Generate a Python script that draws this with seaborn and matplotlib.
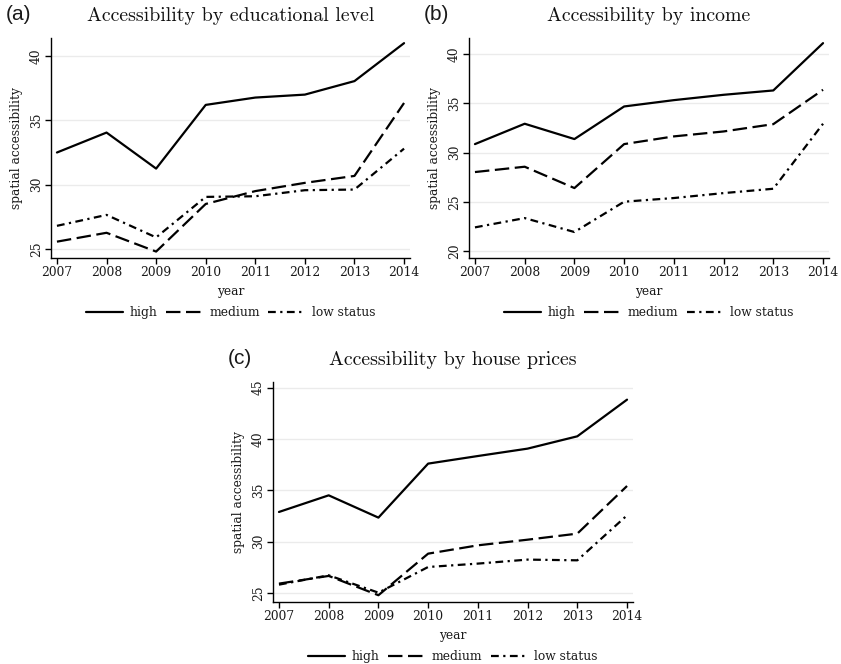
import numpy as np
import pandas as pd
import matplotlib
matplotlib.use("Agg")
import matplotlib.pyplot as plt
from matplotlib.lines import Line2D
import seaborn as sns

years = [2007, 2008, 2009, 2010, 2011, 2012, 2013, 2014]
groups = ["high", "medium", "low status"]

edu_high = [32.5, 34.05, 31.25, 36.2, 36.77, 37.0, 38.05, 41.0]
edu_medium = [25.57, 26.26, 24.8, 28.5, 29.5, 30.14, 30.68, 36.35]
edu_low = [26.8, 27.65, 25.9, 29.05, 29.1, 29.57, 29.62, 32.8]

inc_high = [30.86, 32.92, 31.37, 34.67, 35.31, 35.85, 36.29, 41.08]
inc_medium = [28.03, 28.57, 26.41, 30.86, 31.64, 32.14, 32.88, 36.36]
inc_low = [22.43, 23.37, 21.96, 25.03, 25.4, 25.9, 26.34, 32.92]

hp_high = [32.89, 34.51, 32.34, 37.6, 38.34, 39.06, 40.26, 43.83]
hp_medium = [25.91, 26.66, 24.78, 28.83, 29.64, 30.19, 30.78, 35.42]
hp_low = [25.81, 26.72, 25.03, 27.53, 27.86, 28.25, 28.18, 32.56]

panels = [
    ("(a)", "Accessibility by educational level", [edu_high, edu_medium, edu_low],
     [25, 30, 35, 40], (24.3, 41.4)),
    ("(b)", "Accessibility by income", [inc_high, inc_medium, inc_low],
     [20, 25, 30, 35, 40], (19.33, 41.6)),
    ("(c)", "Accessibility by house prices", [hp_high, hp_medium, hp_low],
     [25, 30, 35, 40, 45], (24.12, 45.55)),
]

sns.set_theme(style="white")
plt.rcParams["font.family"] = ["DejaVu Serif"]

W, H = 841, 664
fig = plt.figure(figsize=(W / 100, H / 100), dpi=100)

# axes boxes in pixels: left, top, right, bottom
boxes = [(51, 38, 410, 258), (469, 38, 829, 258), (273, 382, 633, 602)]

dashes = {"high": "", "medium": (6.5, 2.5), "low status": (3.5, 2, 1, 2)}
FS = 8.8
TXT = "#1a1a1a"

for (tag, title, series, yticks, ylim), (l, t, r, b) in zip(panels, boxes):
    ax = fig.add_axes([l / W, 1 - b / H, (r - l) / W, (b - t) / H])
    df = pd.DataFrame({
        "year": years * 3,
        "value": series[0] + series[1] + series[2],
        "group": [g for g in groups for _ in years],
    })
    sns.lineplot(data=df, x="year", y="value", style="group", style_order=groups,
                 dashes=dashes, color="black", linewidth=1.6, ax=ax, legend=False)
    ax.set_xlim(2006.88, 2014.12)
    ax.set_ylim(*ylim)
    ax.set_xticks(years)
    ax.set_yticks(yticks)
    ax.set_xticklabels([str(y) for y in years], fontsize=FS)
    ax.set_yticklabels([str(v) for v in yticks], fontsize=FS, rotation=90, va="center")
    ax.yaxis.grid(True, color="#ebebeb", linewidth=1.0)
    ax.xaxis.grid(False)
    for s in ["top", "right"]:
        ax.spines[s].set_visible(False)
    for s in ["left", "bottom"]:
        ax.spines[s].set_color("black")
        ax.spines[s].set_linewidth(1.0)
    ax.tick_params(axis="both", which="major", direction="out", length=4, width=1,
                   color="black", labelcolor=TXT, pad=2, bottom=True, left=True)
    ax.set_xlabel("year", fontsize=FS, labelpad=4, color=TXT)
    ax.set_ylabel("spatial accessibility", fontsize=FS, labelpad=5, color=TXT)
    ax.set_title(title, fontsize=14.3, family="cmr10", pad=12, color="#111111")

    handles = [Line2D([], [], color="black", linewidth=1.6,
                      linestyle=(0, dashes[g]) if dashes[g] else "-") for g in groups]
    ax.legend(handles, groups, loc="upper center", bbox_to_anchor=(0.5, -0.195),
              ncol=3, frameon=False, fontsize=FS, handlelength=3.0,
              columnspacing=0.7, handletextpad=0.55, borderaxespad=0,
              labelcolor=TXT)

    fig.text((l - 45) / W, 1 - (t - 23) / H, tag, family="Liberation Sans",
             fontsize=15, va="center", ha="left", color=TXT)

fig.savefig("out.png", dpi=100, facecolor="white")
